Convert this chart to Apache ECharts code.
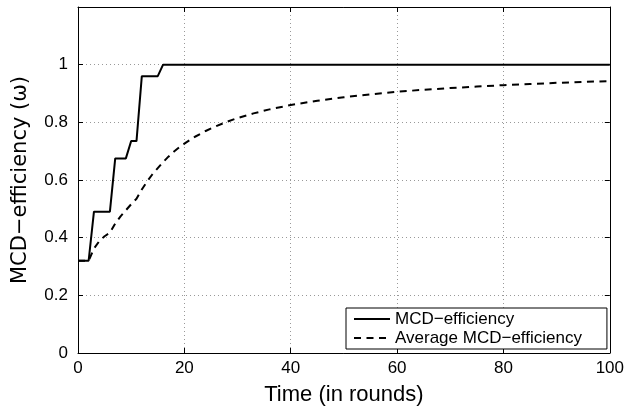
<!DOCTYPE html>
<html>
<head>
<meta charset="utf-8">
<script src="https://cdn.jsdelivr.net/npm/echarts@6/dist/echarts.min.js"></script>
<style>html,body{margin:0;padding:0;background:#fff}#c{width:627px;height:414px}</style>
</head>
<body>
<div id="c"></div>
<script>
var mcdX = [0, 2, 3, 6, 7, 9, 10, 11, 12, 15, 16, 100];
var mcdY = [0.32, 0.32, 0.49, 0.49, 0.675, 0.675, 0.735, 0.735, 0.96, 0.96, 1.0, 1.0];
var avgX = [0, 1, 2, 3, 4, 5, 6, 7, 8, 9, 10, 11, 12, 13, 14, 15, 16, 17, 18, 19, 20, 22, 24, 26, 28, 30, 33, 36, 40, 45, 50, 55, 60, 65, 70, 75, 80, 85, 90, 95, 100];
var avgY = [0.32, 0.32, 0.32, 0.362, 0.388, 0.405, 0.417, 0.449, 0.474, 0.495, 0.516, 0.535, 0.567, 0.595, 0.62, 0.641, 0.662, 0.681, 0.698, 0.713, 0.726, 0.75, 0.77, 0.787, 0.802, 0.815, 0.831, 0.845, 0.86, 0.875, 0.887, 0.897, 0.906, 0.913, 0.919, 0.924, 0.929, 0.933, 0.937, 0.94, 0.943];
var xTicks = [0, 20, 40, 60, 80, 100];
var yTicks = [0, 0.2, 0.4, 0.6, 0.8, 1];
var seriesNames = ['MCD\u2212efficiency', 'Average MCD\u2212efficiency'];
var xTitle = 'Time (in rounds)';
var yTitle = 'MCD\u2212efficiency (\u03c9)';

function zip(a, b) { return a.map(function (v, i) { return [v, b[i]]; }); }

var FONT = 'Liberation Sans, Arial, Helvetica, sans-serif';
var chart = echarts.init(document.getElementById('c'), null, { renderer: 'canvas' });
var gridLine = { show: true, lineStyle: { color: '#999', type: [1, 3], width: 1 } };
var axisLine = { show: true, onZero: false, lineStyle: { color: '#000', width: 1 } };
var tick = { show: true, inside: true, length: 5, lineStyle: { color: '#000' } };
chart.setOption({
  animation: false,
  backgroundColor: '#fff',
  grid: { left: 78, right: 16, top: 7, bottom: 61, containLabel: false },
  legend: {
    orient: 'vertical',
    left: 346, top: 308,
    itemWidth: 36, itemHeight: 12, itemGap: 1,
    padding: [2, 25, 2, 7],
    backgroundColor: '#fff',
    borderColor: '#000', borderWidth: 1, borderRadius: 0,
    itemStyle: { opacity: 0 },
    textStyle: { fontFamily: FONT, fontSize: 17, lineHeight: 18, color: '#000' },
    data: seriesNames
  },
  xAxis: [{
    type: 'value', min: 0, max: 100, interval: 20,
    name: xTitle, nameLocation: 'middle', nameGap: 31,
    nameTextStyle: { fontFamily: FONT, fontSize: 22, color: '#000' },
    axisLine: axisLine, axisTick: tick, splitLine: gridLine,
    axisLabel: { fontFamily: FONT, fontSize: 17, color: '#000', margin: 7,
      formatter: function (v) { return xTicks.indexOf(v) >= 0 ? String(v) : ''; } }
  }, {
    type: 'value', min: 0, max: 100, interval: 20, position: 'top',
    axisLine: axisLine, axisTick: tick, axisLabel: { show: false }, splitLine: { show: false }
  }],
  yAxis: [{
    type: 'value', min: 0, max: 1.2, interval: 0.2,
    name: yTitle, nameLocation: 'middle', nameGap: 47,
    nameTextStyle: { fontFamily: 'DejaVu Sans, sans-serif', fontSize: 21, color: '#000' },
    axisLine: axisLine, axisTick: tick, splitLine: gridLine,
    axisLabel: { fontFamily: FONT, fontSize: 17, color: '#000', margin: 10,
      formatter: function (v) {
        var r = Math.round(v * 10) / 10;
        return yTicks.indexOf(r) >= 0 ? String(r) : '';
      } }
  }, {
    type: 'value', min: 0, max: 1.2, interval: 0.2, position: 'right',
    axisLine: axisLine, axisTick: tick, axisLabel: { show: false }, splitLine: { show: false }
  }],
  series: [{
    name: seriesNames[0], type: 'line', symbol: 'none', z: 3,
    data: zip(mcdX, mcdY),
    lineStyle: { color: '#000', width: 2 }, itemStyle: { color: '#000' }
  }, {
    name: seriesNames[1], type: 'line', symbol: 'none', z: 2,
    data: zip(avgX, avgY),
    lineStyle: { color: '#000', width: 2, type: [7, 5.5] }, itemStyle: { color: '#000' }
  }]
});
</script>
</body>
</html>
